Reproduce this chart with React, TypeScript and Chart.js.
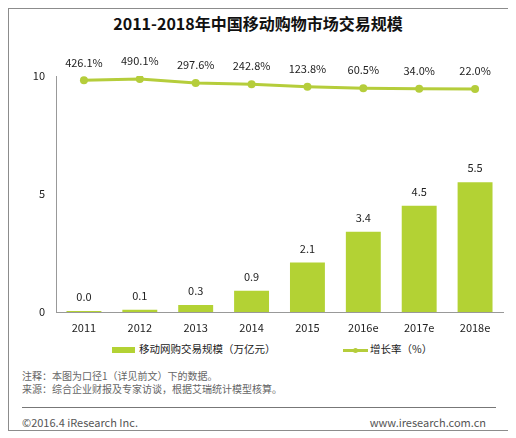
import React, { useEffect, useRef } from "react";
import { Chart, registerables } from "chart.js";

Chart.register(...registerables);

const categories = ["2011", "2012", "2013", "2014", "2015", "2016e", "2017e", "2018e"];
const scaleValues = [0.04, 0.1, 0.3, 0.9, 2.1, 3.4, 4.5, 5.5];
const growthRates = [426.1, 490.1, 297.6, 242.8, 123.8, 60.5, 34.0, 22.0];
const yTicks = [0, 5, 10];

const title = "2011-2018年中国移动购物市场交易规模";
const barLegend = "移动网购交易规模（万亿元）";
const lineLegend = "增长率（%）";
const note1 = "注释：本图为口径1（详见前文）下的数据。";
const note2 = "来源：综合企业财报及专家访谈，根据艾瑞统计模型核算。";
const footerLeft = "©2016.4 iResearch Inc.";
const footerRight = "www.iresearch.com.cn";

const BAR_COLOR = "#b3d234";
const LINE_COLOR = "#b5cd3b";
const FONT = "'Noto Sans CJK SC', 'Noto Sans', sans-serif";

const labelPlugin = {
  id: "valueLabels",
  afterDatasetsDraw(chart: any) {
    const ctx = chart.ctx;
    ctx.save();
    ctx.font = `11px ${FONT}`;
    ctx.fillStyle = "#222";
    ctx.textAlign = "center";
    ctx.textBaseline = "middle";
    const barMeta = chart.getDatasetMeta(1);
    barMeta.data.forEach((el: any, i: number) => {
      ctx.fillText(scaleValues[i].toFixed(1), el.x, el.y - 14);
    });
    const lineMeta = chart.getDatasetMeta(0);
    lineMeta.data.forEach((el: any, i: number) => {
      ctx.fillText(growthRates[i].toFixed(1) + "%", el.x, el.y - 18);
    });
    ctx.restore();
  },
};

export default function App() {
  const ref = useRef<HTMLCanvasElement | null>(null);
  useEffect(() => {
    if (!ref.current) return;
    const chart = new Chart(ref.current, {
      data: {
        labels: categories,
        datasets: [
          {
            type: "line",
            data: growthRates,
            yAxisID: "y1",
            borderColor: LINE_COLOR,
            backgroundColor: LINE_COLOR,
            borderWidth: 3,
            pointRadius: 4,
            pointBackgroundColor: LINE_COLOR,
            pointBorderWidth: 0,
            tension: 0,
          } as any,
          {
            type: "bar",
            data: scaleValues,
            yAxisID: "y",
            backgroundColor: BAR_COLOR,
            barPercentage: 0.625,
            categoryPercentage: 1,
          } as any,
        ],
      },
      options: {
        responsive: false,
        animation: false,
        devicePixelRatio: 1,
        layout: { padding: { top: 67, right: 4, bottom: 0, left: 0 } },
        plugins: { legend: { display: false }, tooltip: { enabled: false }, title: { display: false } },
        scales: {
          x: {
            grid: { display: false, drawTicks: false },
            border: { display: true, color: "#999", width: 1 },
            ticks: { color: "#222", font: { size: 11, family: FONT }, padding: 9 },
            afterFit: (s: any) => { s.height = 27; },
          },
          y: {
            min: 0,
            max: 10,
            position: "left",
            afterBuildTicks: (s: any) => { s.ticks = yTicks.map((v) => ({ value: v })); },
            grid: { display: false, drawTicks: false },
            border: { display: true, color: "#999", width: 1 },
            ticks: { color: "#222", font: { size: 11, family: FONT }, padding: 11 },
            afterFit: (s: any) => { s.width = 47; },
          },
          y1: {
            display: false,
            min: -10400,
            max: 630,
          },
        },
      },
      plugins: [labelPlugin],
    });
    return () => chart.destroy();
  }, []);

  const textStyle: React.CSSProperties = { position: "absolute", whiteSpace: "nowrap", fontFamily: FONT, lineHeight: 1 };

  return (
    <div style={{ position: "relative", width: 501, height: 423, boxSizing: "border-box", border: "1px solid #8c8c8c", background: "#fff" }}>
      <div style={{ ...textStyle, left: 0, width: 498, top: 6, textAlign: "center", fontSize: 16, fontWeight: "bold", color: "#111" }}>{title}</div>
      <canvas ref={ref} width={498} height={330} style={{ position: "absolute", left: 0, top: 0 }} />
      <div style={{ position: "absolute", left: 103, top: 338, width: 23, height: 6, background: BAR_COLOR }} />
      <div style={{ ...textStyle, left: 130, top: 335, fontSize: 10.5, color: "#222" }}>{barLegend}</div>
      <div style={{ position: "absolute", left: 334, top: 340, width: 25, height: 3, background: LINE_COLOR }} />
      <div style={{ position: "absolute", left: 344, top: 339, width: 5, height: 5, borderRadius: 3, background: LINE_COLOR }} />
      <div style={{ ...textStyle, left: 361, top: 335, fontSize: 10.5, color: "#222" }}>{lineLegend}</div>
      <div style={{ ...textStyle, left: 13, top: 362, fontSize: 10, color: "#666" }}>{note1}</div>
      <div style={{ ...textStyle, left: 13, top: 375, fontSize: 10, color: "#666" }}>{note2}</div>
      <div style={{ position: "absolute", left: 13, top: 398, width: 474, height: 1, background: "#777" }} />
      <div style={{ ...textStyle, left: 13, top: 408, fontSize: 11, color: "#555" }}>{footerLeft}</div>
      <div style={{ ...textStyle, right: 22, top: 408, fontSize: 11, color: "#555" }}>{footerRight}</div>
    </div>
  );
}
